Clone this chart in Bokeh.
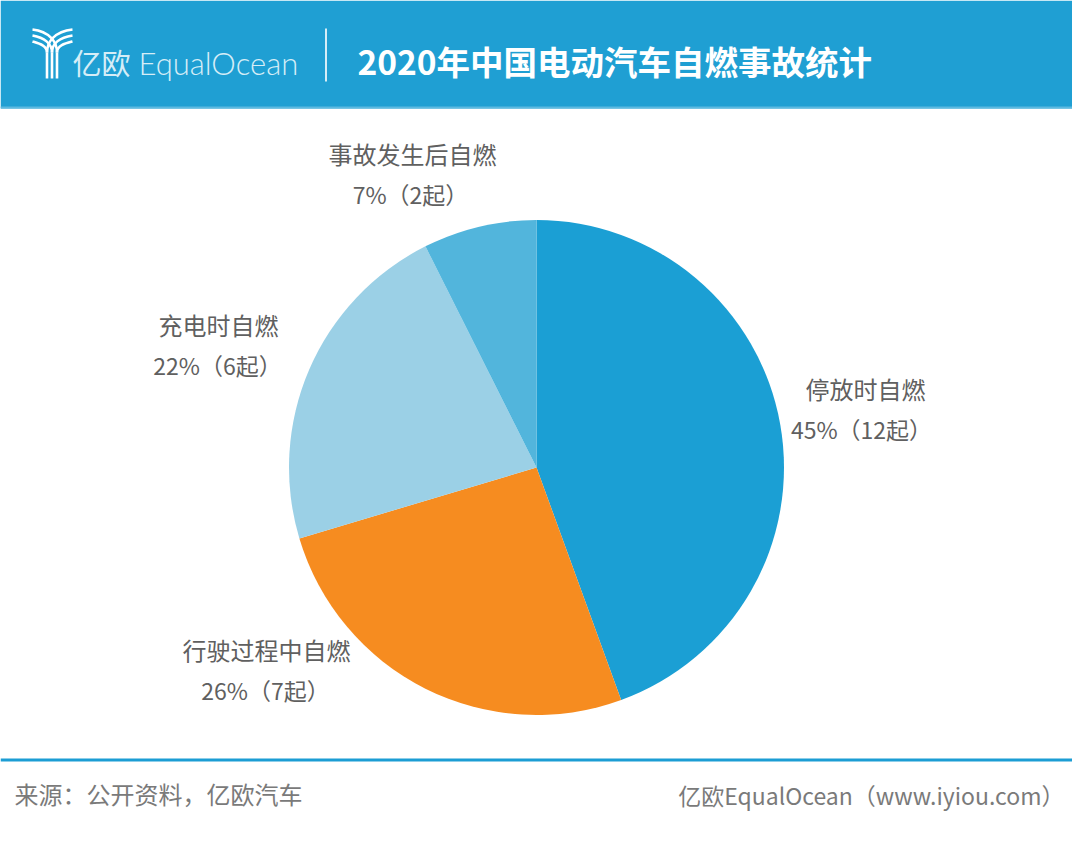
import numpy as np
from bokeh.plotting import figure
from bokeh.models import ColumnDataSource
from bokeh.embed import file_html
from bokeh.resources import INLINE

title = "2020年中国电动汽车自燃事故统计"
categories = ["停放时自燃", "行驶过程中自燃", "充电时自燃", "事故发生后自燃"]
counts = [12, 7, 6, 2]
shares = ["45%（12起）", "26%（7起）", "22%（6起）", "7%（2起）"]
colors = ["#1b9fd4", "#f68c20", "#9bd0e6", "#52b5dc"]
source_note = "来源：公开资料，亿欧汽车"
brand_note = "亿欧EqualOcean（www.iyiou.com）"

W, H = 1072, 833
CJK = "Noto Sans CJK SC"


def flip(y):
    return H - y


p = figure(width=W, height=H, x_range=(0, W), y_range=(0, H),
           output_backend="svg", toolbar_location=None, tools="",
           min_border=0)
p.axis.visible = False
p.grid.visible = False
p.outline_line_color = None
p.background_fill_color = "white"
p.border_fill_color = "white"

# header band
p.quad(left=0, right=W, top=flip(0), bottom=flip(108),
       fill_color="#1f9fd3", line_color=None)
p.quad(left=0, right=W, top=flip(106), bottom=flip(108),
       fill_color="#5cb9e0", line_color=None)
p.segment(x0=325.5, y0=flip(28), x1=325.5, y1=flip(81), line_color="#d5edf7", line_width=2)

# logo
for i in range(3):
    stem = 46.5 + i * 5
    p.segment(x0=stem, y0=flip(78), x1=stem, y1=flip(52), line_color="white", line_width=2.6)
    p.bezier(x0=stem, y0=flip(52), x1=32, y1=flip(29 + (2 - i) * 6),
             cx0=stem, cy0=flip(45 - i * 2), cx1=stem - 8, cy1=flip(31 + (2 - i) * 6),
             line_color="white", line_width=2.6)
    p.bezier(x0=stem, y0=flip(52), x1=72, y1=flip(29 + i * 6),
             cx0=stem, cy0=flip(45 - (2 - i) * 2), cx1=stem + 8, cy1=flip(31 + i * 6),
             line_color="white", line_width=2.6)

p.text(x=[72], y=[flip(61)], text=["亿欧"], text_font={"value": CJK}, text_font_size="29px",
       text_color="#d5edf7", text_baseline="middle")
p.text(x=[138], y=[flip(62)], text=["EqualOcean"], text_font={"value": "Lato Light"}, text_font_size="31px",
       text_color="#d5edf7", text_baseline="middle")
p.text(x=[357], y=[flip(60)], text=[title], text_font={"value": CJK}, text_font_size="33.5px",
       text_font_style="bold", text_color="white", text_baseline="middle")

# pie, clockwise from twelve o'clock
fractions = np.array(counts) / sum(counts)
ends = np.cumsum(fractions)
starts = ends - fractions
pie = ColumnDataSource(dict(
    start=np.pi / 2 - 2 * np.pi * starts,
    end=np.pi / 2 - 2 * np.pi * ends,
    color=colors,
))
p.wedge(x=536, y=flip(467), radius=247.5, start_angle="start", end_angle="end",
        direction="clock", fill_color="color", line_color=None, source=pie)

# slice labels
label_x = [865, 266, 218, 412]
name_y = [388, 649, 324, 153]
share_x = [861, 265, 217, 410]
share_y = [428, 689, 364, 193]
p.text(x=label_x, y=[flip(v) for v in name_y], text=categories, text_font={"value": CJK},
       text_font_size="24px", text_color="#606060", text_align="center", text_baseline="middle")
p.text(x=share_x, y=[flip(v) for v in share_y], text=shares, text_font={"value": CJK},
       text_font_size="23px", text_color="#606060", text_align="center", text_baseline="middle")

# footer
p.segment(x0=0, y0=flip(759.5), x1=W, y1=flip(759.5), line_color="#1c9dd4", line_width=3)
p.text(x=[14], y=[flip(793)], text=[source_note], text_font={"value": CJK}, text_font_size="24px",
       text_color="#7a7a7a", text_baseline="middle")
p.text(x=[1064], y=[flip(794)], text=[brand_note], text_font={"value": CJK}, text_font_size="23px",
       text_color="#7a7a7a", text_align="right", text_baseline="middle")

open("out.html", "w").write(file_html(p, INLINE))
